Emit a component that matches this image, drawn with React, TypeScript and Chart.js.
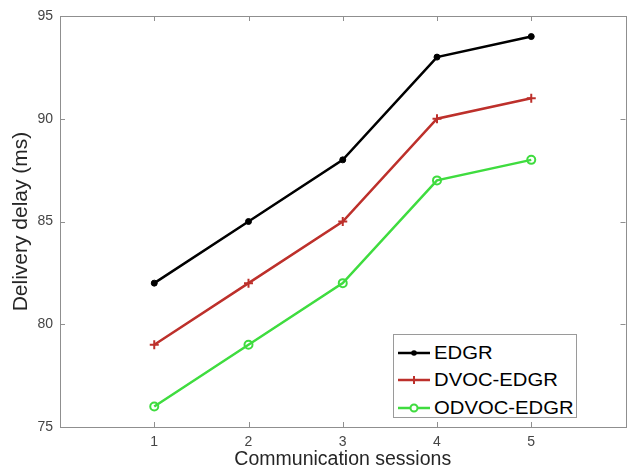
import React, { useEffect, useRef } from "react";
import { Chart, registerables } from "chart.js";

Chart.register(...registerables);

const sessions = [1, 2, 3, 4, 5];
const edgr = [82, 85, 88, 93, 94];
const dvocEdgr = [79, 82, 85, 90, 91];
const odvocEdgr = [76, 79, 82, 87, 88];
const seriesNames = ["EDGR", "DVOC-EDGR", "ODVOC-EDGR"];
const seriesColors = ["#000000", "#bd302b", "#3fdc3f"];
const xTitle = "Communication sessions";
const yTitle = "Delivery delay (ms)";
const xTicks = [1, 2, 3, 4, 5];
const yTicks = [75, 80, 85, 90, 95];

const AXIS_COLOR = "#8f8f8f";

const boxPlugin = {
  id: "matlabBox",
  afterDraw(chart: any) {
    const { ctx, chartArea } = chart;
    const { left, right, top, bottom } = chartArea;
    const xs = chart.scales.x;
    const ys = chart.scales.y;
    ctx.save();
    ctx.strokeStyle = AXIS_COLOR;
    ctx.lineWidth = 1;
    ctx.strokeRect(Math.round(left) + 0.5, Math.round(top) + 0.5, Math.round(right - left), Math.round(bottom - top));
    const tl = 5;
    ctx.beginPath();
    xTicks.forEach((v) => {
      const px = Math.round(xs.getPixelForValue(v)) + 0.5;
      ctx.moveTo(px, bottom);
      ctx.lineTo(px, bottom - tl);
      ctx.moveTo(px, top);
      ctx.lineTo(px, top + tl);
    });
    yTicks.forEach((v) => {
      const py = Math.round(ys.getPixelForValue(v)) + 0.5;
      ctx.moveTo(left, py);
      ctx.lineTo(left + tl, py);
      ctx.moveTo(right, py);
      ctx.lineTo(right - tl, py);
    });
    ctx.stroke();
    ctx.restore();
  },
};

function LegendSample({ color, kind }: { color: string; kind: number }) {
  return (
    <svg width="34" height="12" style={{ display: "block" }}>
      <line x1="1" y1="6" x2="33" y2="6" stroke={color} strokeWidth="2.5" />
      {kind === 0 && <circle cx="17" cy="6" r="2.8" fill={color} />}
      {kind === 1 && (
        <g stroke={color} strokeWidth="2">
          <line x1="17" y1="2" x2="17" y2="10" />
          <line x1="13" y1="6" x2="21" y2="6" />
        </g>
      )}
      {kind === 2 && <circle cx="17" cy="6" r="3.5" fill="white" stroke={color} strokeWidth="2" />}
    </svg>
  );
}

export default function App() {
  const canvasRef = useRef<HTMLCanvasElement | null>(null);

  useEffect(() => {
    if (!canvasRef.current) return;
    const family = "'Liberation Sans', Arial, sans-serif";
    const tickFont = { family, size: 14 };
    const chart = new Chart(canvasRef.current, {
      type: "line",
      data: {
        datasets: [
          {
            label: seriesNames[0],
            data: sessions.map((s, i) => ({ x: s, y: edgr[i] })),
            borderColor: seriesColors[0],
            backgroundColor: seriesColors[0],
            borderWidth: 2.5,
            pointStyle: "circle",
            pointRadius: 3,
            pointBorderWidth: 1,
          },
          {
            label: seriesNames[1],
            data: sessions.map((s, i) => ({ x: s, y: dvocEdgr[i] })),
            borderColor: seriesColors[1],
            backgroundColor: seriesColors[1],
            borderWidth: 2.5,
            pointStyle: "cross",
            pointRadius: 4.5,
            pointBorderWidth: 2,
          },
          {
            label: seriesNames[2],
            data: sessions.map((s, i) => ({ x: s, y: odvocEdgr[i] })),
            borderColor: seriesColors[2],
            backgroundColor: "rgba(255,255,255,0)",
            borderWidth: 2.5,
            pointStyle: "circle",
            pointRadius: 4,
            pointBorderWidth: 2,
          },
        ],
      },
      options: {
        animation: false,
        responsive: false,
        layout: { padding: { top: 16, right: 4, left: 0, bottom: 0 } },
        plugins: { legend: { display: false }, tooltip: { enabled: false } },
        scales: {
          x: {
            type: "linear",
            min: 0,
            max: 6,
            afterFit: (s: any) => {
              s.height = 48;
            },
            afterBuildTicks: (s: any) => {
              s.ticks = xTicks.map((v) => ({ value: v }));
            },
            ticks: {
              font: tickFont,
              color: "#454545",
              padding: 7,
              maxRotation: 0,
              callback: (v: any) => String(v),
            },
            grid: { display: false, drawTicks: false },
            border: { display: false },
            title: {
              display: true,
              text: xTitle,
              font: { family, size: 19.5, lineHeight: 1.2 },
              color: "#262626",
              padding: { top: 0, bottom: 4 },
            },
          },
          y: {
            type: "linear",
            min: 75,
            max: 95,
            afterFit: (s: any) => {
              s.width = 60;
            },
            afterBuildTicks: (s: any) => {
              s.ticks = yTicks.map((v) => ({ value: v }));
            },
            ticks: {
              font: tickFont,
              color: "#454545",
              padding: 7,
              callback: (v: any) => String(v),
            },
            grid: { display: false, drawTicks: false },
            border: { display: false },
            title: {
              display: true,
              text: yTitle,
              font: { family, size: 21, lineHeight: 1.2 },
              color: "#262626",
              padding: { top: 9, bottom: 0 },
            },
          },
        },
      },
      plugins: [boxPlugin],
    } as any);
    return () => chart.destroy();
  }, []);

  return (
    <div style={{ position: "absolute", left: 0, top: 0, width: 632, height: 475, background: "white" }}>
      <canvas ref={canvasRef} width={632} height={475} style={{ display: "block" }} />
      <div
        style={{
          position: "absolute",
          left: 393,
          top: 334,
          width: 184,
          height: 84,
          border: "1px solid #9a9a9a",
          background: "white",
          boxSizing: "border-box",
          fontFamily: "'Liberation Sans', Arial, sans-serif",
          fontSize: 18.5,
          color: "#000",
          paddingTop: 4,
        }}
      >
        {seriesNames.map((name, i) => (
          <div key={name} style={{ display: "flex", alignItems: "center", height: 27.5, paddingLeft: 3 }}>
            <LegendSample color={seriesColors[i]} kind={i} />
            <span
              style={{
                marginLeft: 3,
                lineHeight: "20px",
                display: "inline-block",
                transform: "scaleX(1.095)",
                transformOrigin: "left center",
                whiteSpace: "nowrap",
              }}
            >
              {name}
            </span>
          </div>
        ))}
      </div>
    </div>
  );
}
